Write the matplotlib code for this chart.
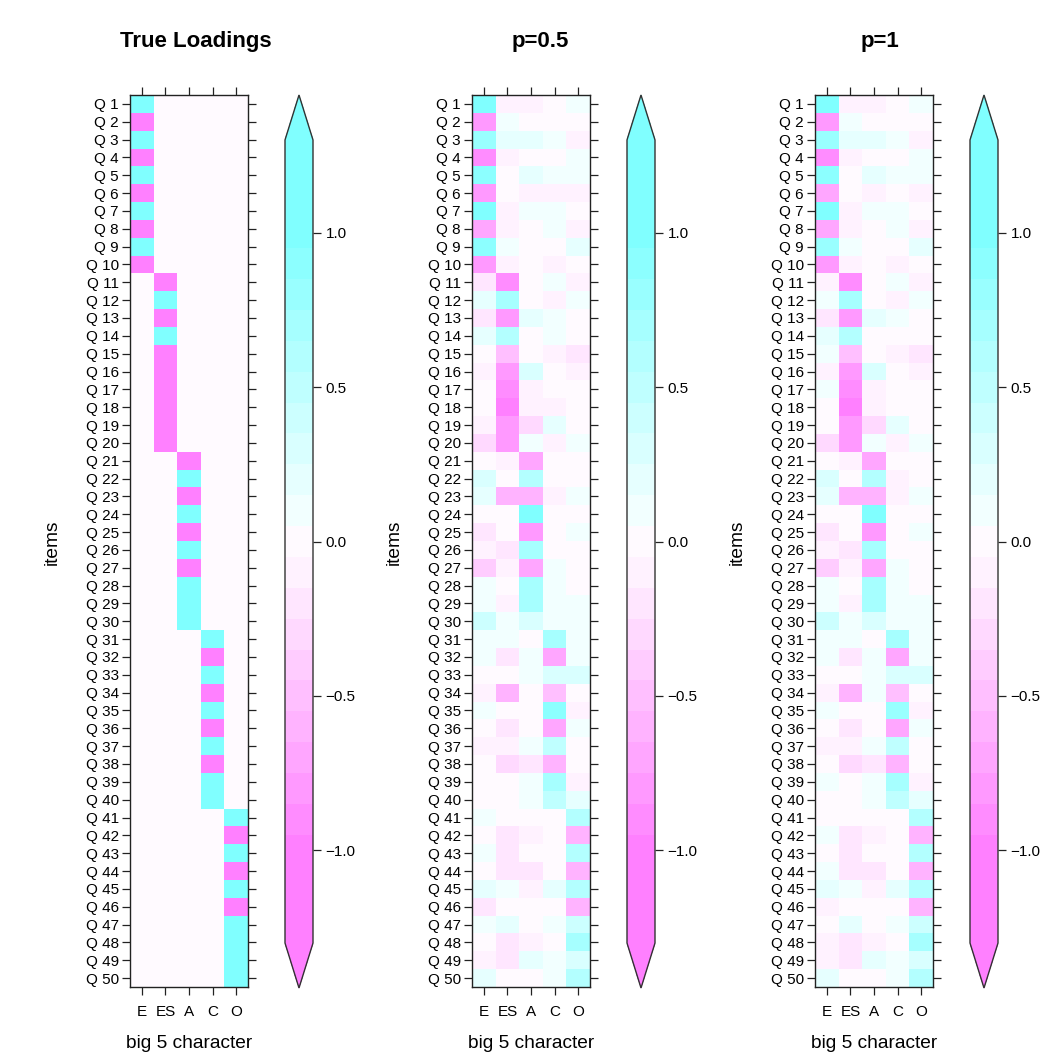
import numpy as np
import matplotlib
matplotlib.use("Agg")
import matplotlib.pyplot as plt
from matplotlib.colors import ListedColormap, BoundaryNorm, hsv_to_rgb
from matplotlib.cm import ScalarMappable
from matplotlib.ticker import NullLocator

plt.rcParams['font.family'] = ['Liberation Sans', 'DejaVu Sans']

items = [f"Q {i}" for i in range(1, 51)]
traits = ["E", "ES", "A", "C", "O"]
panel_titles = ["True Loadings", "p=0.5", "p=1"]
cbar_ticks = [-1.0, -0.5, 0.0, 0.5, 1.0]
cbar_labels = ["\u22121.0", "\u22120.5", "0.0", "0.5", "1.0"]

# rows: items Q1..Q50 ; columns: E, ES, A, C, O
true_loadings = [
    [1, 0, 0, 0, 0], [-1, 0, 0, 0, 0], [1, 0, 0, 0, 0], [-1, 0, 0, 0, 0], [1, 0, 0, 0, 0],
    [-1, 0, 0, 0, 0], [1, 0, 0, 0, 0], [-1, 0, 0, 0, 0], [1, 0, 0, 0, 0], [-1, 0, 0, 0, 0],
    [0, -1, 0, 0, 0], [0, 1, 0, 0, 0], [0, -1, 0, 0, 0], [0, 1, 0, 0, 0], [0, -1, 0, 0, 0],
    [0, -1, 0, 0, 0], [0, -1, 0, 0, 0], [0, -1, 0, 0, 0], [0, -1, 0, 0, 0], [0, -1, 0, 0, 0],
    [0, 0, -1, 0, 0], [0, 0, 1, 0, 0], [0, 0, -1, 0, 0], [0, 0, 1, 0, 0], [0, 0, -1, 0, 0],
    [0, 0, 1, 0, 0], [0, 0, -1, 0, 0], [0, 0, 1, 0, 0], [0, 0, 1, 0, 0], [0, 0, 1, 0, 0],
    [0, 0, 0, 1, 0], [0, 0, 0, -1, 0], [0, 0, 0, 1, 0], [0, 0, 0, -1, 0], [0, 0, 0, 1, 0],
    [0, 0, 0, -1, 0], [0, 0, 0, 1, 0], [0, 0, 0, -1, 0], [0, 0, 0, 1, 0], [0, 0, 0, 1, 0],
    [0, 0, 0, 0, 1], [0, 0, 0, 0, -1], [0, 0, 0, 0, 1], [0, 0, 0, 0, -1], [0, 0, 0, 0, 1],
    [0, 0, 0, 0, -1], [0, 0, 0, 0, 1], [0, 0, 0, 0, 1], [0, 0, 0, 0, 1], [0, 0, 0, 0, 1],
]

est_p05 = [
    [1.0, -0.1, -0.1, 0, 0.1], [-0.8, 0.1, 0, 0, 0], [0.8, 0.2, 0.2, 0.1, -0.1],
    [-0.9, -0.1, 0, 0, 0.1], [0.9, 0, 0.2, 0.1, 0.1], [-0.8, 0, -0.1, -0.1, -0.1],
    [1.1, -0.1, 0.1, 0.1, 0], [-0.7, -0.1, 0, 0.1, -0.1], [0.9, 0.1, 0, 0, 0.2],
    [-0.8, -0.1, 0, -0.1, 0], [-0.2, -0.9, 0, 0.1, -0.1], [0.2, 0.7, 0, -0.1, 0.1],
    [-0.2, -0.8, 0.2, 0.1, 0], [0.2, 0.6, 0, 0.1, 0], [0, -0.5, 0, -0.1, -0.2],
    [-0.1, -0.8, 0.3, 0, -0.1], [0, -0.9, -0.1, 0, 0], [0, -1.0, -0.1, -0.1, 0],
    [-0.1, -0.8, -0.3, 0.2, 0], [-0.3, -0.8, 0.1, -0.1, 0.1], [0, -0.1, -0.7, 0, 0],
    [0.3, 0, 0.6, 0, 0], [0.2, -0.6, -0.6, -0.1, 0.1], [0, 0, 1.0, 0, 0],
    [-0.2, 0, -0.8, 0, 0.1], [-0.1, -0.2, 0.7, 0, 0], [-0.4, -0.1, -0.7, 0.1, 0],
    [0.1, 0, 0.7, 0.1, 0], [0.1, -0.1, 0.7, 0.1, 0.1], [0.4, 0.1, 0.3, 0.1, 0.1],
    [0.1, 0.1, 0, 0.7, 0.1], [0.1, -0.2, 0.1, -0.7, 0.1], [0, 0, 0.1, 0.3, 0.3],
    [-0.1, -0.6, 0, -0.5, 0], [0.1, 0, 0, 0.9, -0.1], [0, -0.2, 0, -0.7, 0.1],
    [-0.1, -0.1, 0.1, 0.5, 0], [0, -0.3, -0.2, -0.6, 0], [0, 0, 0.1, 0.7, -0.1],
    [0, 0, 0.1, 0.5, 0.2], [0.1, 0, 0, 0, 0.6], [0, -0.2, -0.1, 0, -0.6],
    [0.1, -0.2, 0, 0, 0.6], [0, -0.2, -0.2, 0, -0.6], [0.2, 0.1, -0.1, 0.2, 0.6],
    [-0.2, 0, 0, 0, -0.6], [0.1, 0.2, 0, 0.1, 0.4], [0, -0.2, -0.1, 0, 0.7],
    [-0.1, -0.2, 0.2, 0.1, 0.3], [0.2, 0, 0, 0.1, 0.6],
]

est_p1 = [
    [1.0, -0.1, -0.1, 0, 0.1], [-0.8, 0.1, 0, 0, 0], [0.8, 0.2, 0.2, 0.1, -0.1],
    [-0.9, -0.1, 0, 0, 0.1], [0.9, 0, 0.2, 0.1, 0.1], [-0.7, 0, -0.1, 0, -0.1],
    [1.1, -0.1, 0.1, 0.1, 0], [-0.7, -0.1, 0, 0.1, -0.1], [0.8, 0.1, 0, 0, 0.2],
    [-0.8, -0.1, 0, -0.1, 0], [-0.1, -0.9, 0, 0.1, -0.1], [0.1, 0.7, 0, -0.1, 0.1],
    [-0.2, -0.8, 0.2, 0.1, 0], [0.2, 0.6, 0, 0, 0], [0.1, -0.5, 0, -0.1, -0.2],
    [-0.1, -0.8, 0.3, 0, -0.1], [0.1, -0.9, -0.1, 0, 0], [0, -1.0, -0.1, 0, 0],
    [0, -0.8, -0.3, 0.2, 0], [-0.3, -0.8, 0.1, -0.1, 0.1], [0, -0.1, -0.7, 0, 0],
    [0.3, 0, 0.6, -0.1, 0], [0.2, -0.6, -0.6, -0.1, 0.1], [0, 0, 1.0, 0, 0],
    [-0.2, 0, -0.8, 0, 0.1], [-0.1, -0.2, 0.7, 0, 0], [-0.4, -0.1, -0.7, 0.1, 0],
    [0.1, 0, 0.7, 0.1, 0], [0.1, -0.1, 0.7, 0.1, 0.1], [0.4, 0.1, 0.3, 0.1, 0.1],
    [0.1, 0.1, 0, 0.7, 0.1], [0.1, -0.2, 0.1, -0.7, 0.1], [0, 0, 0.1, 0.3, 0.3],
    [-0.1, -0.6, 0.1, -0.5, 0], [0.1, 0, 0, 0.8, -0.1], [0, -0.2, 0, -0.7, 0.1],
    [-0.1, -0.1, 0.1, 0.5, 0], [0, -0.3, -0.2, -0.6, 0], [0.1, 0, 0.1, 0.7, -0.1],
    [0, 0, 0.1, 0.5, 0.2], [0, 0, 0, 0, 0.6], [0.1, -0.2, -0.1, 0, -0.6],
    [0, -0.2, 0, 0, 0.6], [0.1, -0.2, -0.2, 0, -0.6], [0.2, 0.1, -0.1, 0.2, 0.6],
    [-0.1, 0, 0, 0, -0.6], [0, 0.2, 0, 0.1, 0.4], [-0.1, -0.2, -0.1, 0, 0.7],
    [-0.1, -0.2, 0.2, 0.1, 0.3], [0.2, 0, 0, 0.1, 0.6],
]

panels = [true_loadings, est_p05, est_p1]

W, H = 1041, 1055
fig = plt.figure(figsize=(W / 100, H / 100), dpi=100)


def rect(x0, y0, x1, y1):
    return [x0 / W, 1 - y1 / H, (x1 - x0) / W, (y1 - y0) / H]


bounds = np.concatenate([[-1.3], np.round(np.arange(-1.25, 1.2501, 0.1), 2), [1.3]])
centers = (bounds[:-1] + bounds[1:]) / 2


def band_color(c):
    if abs(c) < 0.04:
        return hsv_to_rgb((10 / 12, 0.02, 1.0))
    s = 0.5 * min(abs(c), 1.0)
    h = 0.5 if c > 0 else 10 / 12
    return hsv_to_rgb((h, s, 1.0))


cmap = ListedColormap([band_color(c) for c in centers])
cmap.set_over(band_color(1.3))
cmap.set_under(band_color(-1.3))
norm = BoundaryNorm(bounds, cmap.N)

box_x = [130, 472, 815]
box_w = 118
top, bottom = 95, 987
title_x = [196, 540, 880]
tick_fs = 11
label_fs = 13.8

for k, data in enumerate(panels):
    arr = np.array(data, dtype=float)
    x0 = box_x[k]
    ax = fig.add_axes(rect(x0, top, x0 + box_w, bottom))
    ax.pcolormesh(np.arange(len(traits) + 1) + 0.5, np.arange(len(items) + 1) + 0.5,
                  arr, cmap=cmap, norm=norm, shading='flat')
    ax.set_xlim(0.5, len(traits) + 0.5)
    ax.set_ylim(len(items) + 0.5, 0.5)
    ax.set_xticks(np.arange(1, len(traits) + 1))
    ax.set_xticklabels(traits, fontsize=tick_fs)
    ax.set_yticks(np.arange(1, len(items) + 1))
    ax.set_yticklabels(items, fontsize=tick_fs)
    ax.tick_params(direction='out', top=True, right=True, labeltop=False, labelright=False,
                   length=6, width=0.9, pad=2, colors='#222222', labelcolor='black')
    ax.tick_params(axis='x', pad=7)
    for sp in ax.spines.values():
        sp.set_linewidth(1.0)
        sp.set_color('#222222')

    fig.text((x0 + box_w / 2) / W, 1 - 1043 / H, "big 5 character", ha='center', va='center',
             fontsize=label_fs)
    fig.text((x0 - 78) / W, 1 - 542 / H, "items", ha='center', va='center', rotation=90,
             fontsize=label_fs)
    fig.text(title_x[k] / W, 1 - 42 / H, panel_titles[k], ha='center', va='center',
             fontsize=16, fontweight='bold')

    cx = x0 + 155
    cax = fig.add_axes(rect(cx, 95, cx + 28, 988))
    cb = fig.colorbar(ScalarMappable(norm=norm, cmap=cmap), cax=cax, extend='both',
                      extendfrac=0.056, spacing='proportional', ticks=cbar_ticks)
    cb.ax.set_yticklabels(cbar_labels)
    cb.ax.yaxis.set_minor_locator(NullLocator())
    cb.outline.set_edgecolor('#333333')
    cb.outline.set_linewidth(1.0)
    cb.ax.tick_params(direction='out', length=6, width=0.9, labelsize=tick_fs, pad=3,
                      colors='#222222', labelcolor='black')

fig.savefig("out.png", dpi=100, facecolor='white')
